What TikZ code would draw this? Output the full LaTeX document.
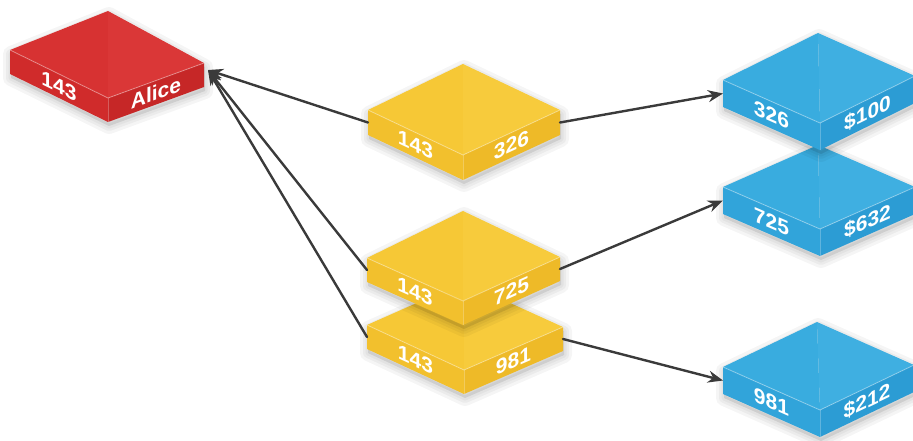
\documentclass[tikz,border=0pt]{standalone}
\usepackage{fontspec}
\setmainfont{Liberation Sans}
\usetikzlibrary{arrows.meta,calc}

% palettes: top face (two halves), left side, right side
\definecolor{redTopA}{HTML}{D73232}
\definecolor{redTopB}{HTML}{DA3737}
\definecolor{redLeft}{HTML}{D02B2B}
\definecolor{redRight}{HTML}{C62727}
\definecolor{yelTopA}{HTML}{F6C836}
\definecolor{yelTopB}{HTML}{F7CB3C}
\definecolor{yelLeft}{HTML}{F2C02D}
\definecolor{yelRight}{HTML}{EEBA28}
\definecolor{bluTopA}{HTML}{39ACDF}
\definecolor{bluTopB}{HTML}{3FAFE1}
\definecolor{bluLeft}{HTML}{31A4DA}
\definecolor{bluRight}{HTML}{2C9CD4}
\definecolor{connGray}{HTML}{3A3A3A}

\tikzset{
  facetext/.style={text=white, font=\bfseries\fontsize{21}{21}\selectfont,
    inner sep=0pt, anchor=center},
  conn/.style={draw=connGray, line width=2.4pt, line cap=round,
    -{Stealth[length=15pt,width=12pt]}},
  edgelight/.style={draw=white, draw opacity=0.35, line width=0.9pt},
}

% \slab{name}{palette}{thickness}{left label}{right label}
% expects the top-face corners (name-L), (name-B), (name-R), (name-F)
\newcommand\slab[5]{%
  \coordinate (#1-Lb) at ($(#1-L)+(0,#3)$);
  \coordinate (#1-Fb) at ($(#1-F)+(0,#3)$);
  \coordinate (#1-Rb) at ($(#1-R)+(0,#3)$);
  \coordinate (#1-west) at ($(#1-L)+(0,#3/2)$);
  \coordinate (#1-east) at ($(#1-R)+(0,#3/2)$);
  % soft shadow
  \foreach \sw in {16,10,5}{%
    \draw[black, draw opacity=0.04, fill=black, fill opacity=0.03,
      line width=\sw pt, line join=round, transform canvas={shift={(1,4)}}]
      (#1-L) -- (#1-B) -- (#1-R) -- (#1-Rb) -- (#1-Fb) -- (#1-Lb) -- cycle;}
  % side faces
  \fill[fill=#2Left] (#1-L) -- (#1-F) -- (#1-Fb) -- (#1-Lb) -- cycle;
  \fill[fill=#2Right] (#1-F) -- (#1-R) -- (#1-Rb) -- (#1-Fb) -- cycle;
  % top face
  \fill[fill=#2TopA] (#1-L) -- (#1-B) -- (#1-F) -- cycle;
  \fill[fill=#2TopB] (#1-B) -- (#1-R) -- (#1-F) -- cycle;
  % lit edges
  \draw[edgelight] (#1-L) -- (#1-F) -- (#1-R);
  \draw[edgelight, draw opacity=0.25] (#1-F) -- (#1-Fb);
  % labels follow the slope of each side face
  \path let \p1=($(#1-F)-(#1-L)$), \p2=($(#1-R)-(#1-F)$) in
    \pgfextra{\pgfmathsetmacro\slopeA{\y1/\x1}\xdef\slopeA{\slopeA}%
      \pgfmathsetmacro\slopeB{\y2/\x2}\xdef\slopeB{\slopeB}};
  \begin{scope}[shift={($(#1-L)!0.5!(#1-Fb)$)}, yslant=\slopeA]
    \node[facetext, transform shape] (#1-ltext) at (0,0) {#4};
  \end{scope}
  \begin{scope}[shift={($(#1-F)!0.5!(#1-Rb)$)}, yslant=\slopeB]
    \node[facetext, transform shape] (#1-rtext) at (0,0) {#5};
  \end{scope}
}

\begin{document}
\begin{tikzpicture}[x=1pt, y=-1pt]
  \useasboundingbox (0,0) rectangle (913,440);

  % top-face corners of every slab
  \coordinate (red-L) at (10,50);   \coordinate (red-B) at (108,11);
  \coordinate (red-R) at (204,63);  \coordinate (red-F) at (108,98);

  \coordinate (ya-L) at (368,110);  \coordinate (ya-B) at (463,64);
  \coordinate (ya-R) at (560,110);  \coordinate (ya-F) at (463,155);

  \coordinate (yb-L) at (367,258);  \coordinate (yb-B) at (463,211);
  \coordinate (yb-R) at (560,257);  \coordinate (yb-F) at (463,301);

  \coordinate (yc-L) at (367,325);  \coordinate (yc-B) at (464,282);
  \coordinate (yc-R) at (563,327);  \coordinate (yc-F) at (464,370);

  \coordinate (ba-L) at (723,80);   \coordinate (ba-B) at (818,33);
  \coordinate (ba-R) at (915,76);   \coordinate (ba-F) at (820,123);

  \coordinate (bb-L) at (723,187);  \coordinate (bb-B) at (818,145);
  \coordinate (bb-R) at (915,187);  \coordinate (bb-F) at (820,229);

  \coordinate (bc-L) at (723,367);  \coordinate (bc-B) at (817,322);
  \coordinate (bc-R) at (914,365);  \coordinate (bc-F) at (820,410);

  % slabs, back to front
  \slab{red}{red}{24}{143}{Alice}
  \slab{ya}{yel}{25}{143}{326}
  \slab{yc}{yel}{24}{143}{981}
  \slab{yb}{yel}{24}{143}{725}
  \slab{bb}{blu}{27}{725}{\$632}
  \slab{ba}{blu}{27}{326}{\$100}
  \slab{bc}{blu}{27}{981}{\$212}

  % common arrival point beside the red slab
  \coordinate (red-in) at ($(red-R)+(4,7)$);

  % connectors
  \draw[conn] (ya-west) -- (red-in);
  \draw[conn] (yb-west) -- (red-in);
  \draw[conn] (yc-west) -- (red-in);
  \draw[conn] (ya-east) -- (ba-west);
  \draw[conn] (yb-east) -- (bb-west);
  \draw[conn] (yc-east) -- (bc-west);
\end{tikzpicture}
\end{document}
